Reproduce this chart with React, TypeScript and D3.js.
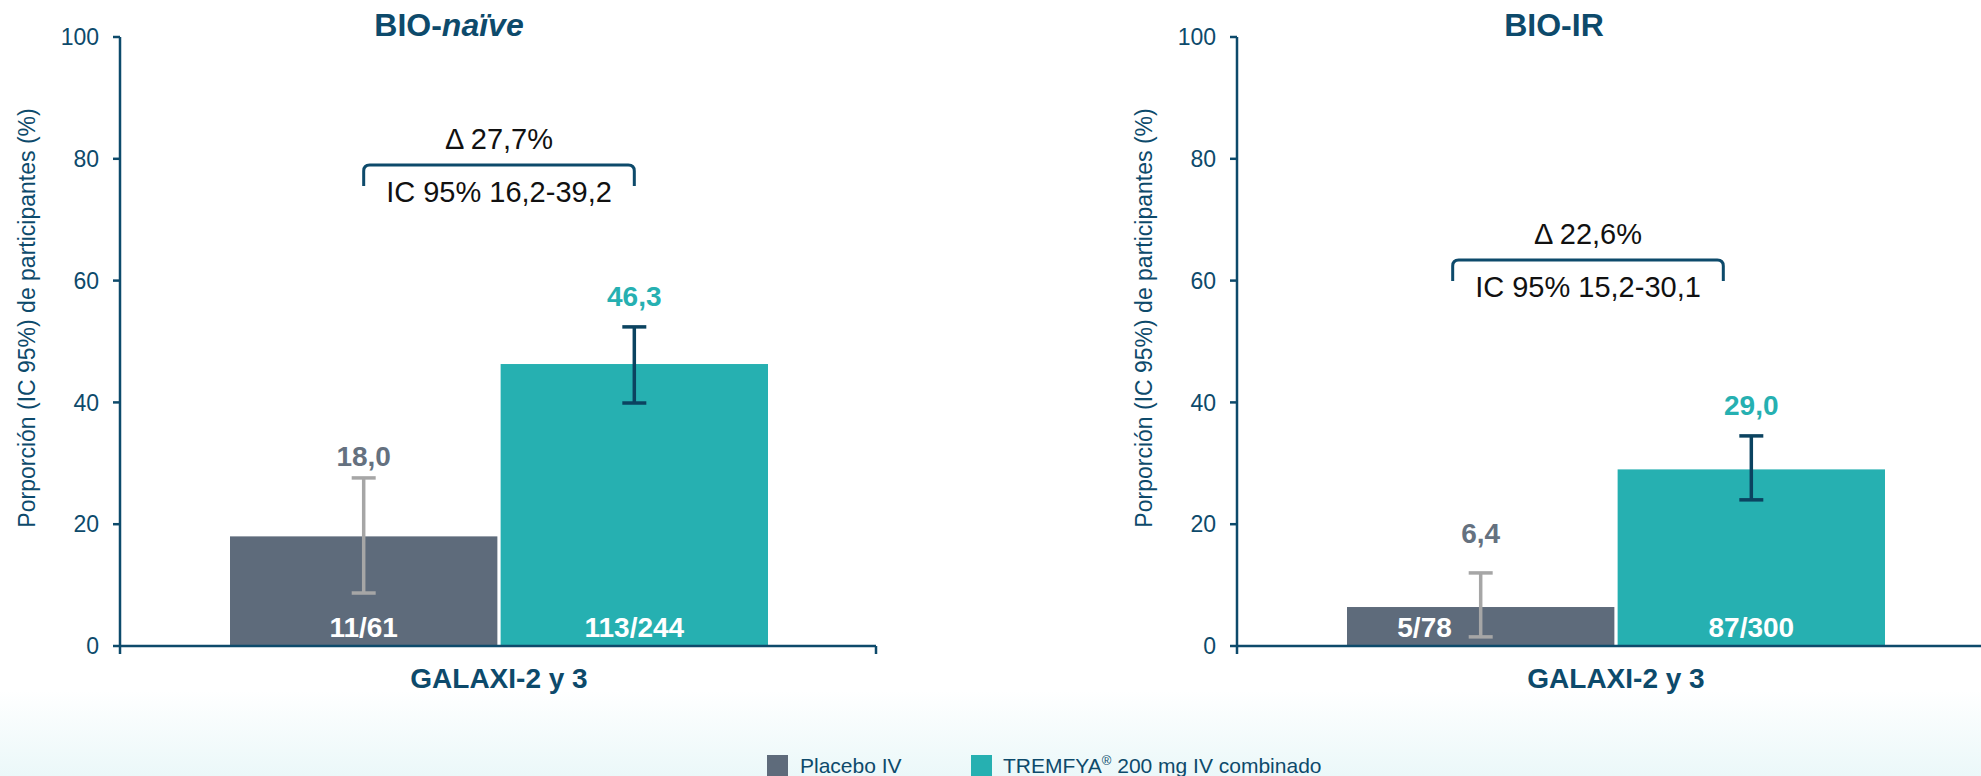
import React from "react";
import * as d3 from "d3";

// ---- data ----
const panelTitlesPlain = ["BIO-", "BIO-IR"];
const panelTitlesItalic = ["naïve", ""];
const seriesNames = ["Placebo IV", "TREMFYA"];
const placeboValues = [18.0, 6.4];
const tremfyaValues = [46.3, 29.0];
const placeboLow = [8.7, 1.5];
const placeboHigh = [27.6, 12.0];
const tremfyaLow = [39.9, 24.0];
const tremfyaHigh = [52.4, 34.5];
const placeboCounts = ["11/61", "5/78"];
const tremfyaCounts = ["113/244", "87/300"];
const deltaLabels = ["Δ 27,7%", "Δ 22,6%"];
const ciLabels = ["IC 95% 16,2-39,2", "IC 95% 15,2-30,1"];
const bracketLevels = [79.0, 63.4];
const yTicks = [0, 20, 40, 60, 80, 100];
const xCategory = "GALAXI-2 y 3";
const yAxisTitle = "Porporción (IC 95%) de participantes (%)";

// ---- layout / style ----
const W = 1981;
const H = 776;
const FONT = "'Liberation Sans', Arial, Helvetica, sans-serif";
const NAVY = "#0d4a6b";
const PLACEBO = "#5e6b7b";
const TEAL = "#26b0b1";
const ERR_GRAY = "#a6a6a6";
const ERR_DARK = "#0b4360";
const LABEL_GRAY = "#65717f";

const panelOrigins = [120, 1237];
const axisLen = 756;
const titleOffsets = [329, 317];
const bracketShift = [0, -28];
const countAnchor = [
  [0.5, 0.5],
  [0.29, 0.5],
];
const valueLabelGap = [
  [12, 21],
  [30, 21],
];

const y = d3.scaleLinear().domain([0, 100]).range([646, 37]);
const fmt = (v: number) => d3.format(".1f")(v).replace(".", ",");

function Panel({ i }: { i: number }) {
  const ox = panelOrigins[i];
  const x = d3
    .scaleBand<string>()
    .domain(seriesNames)
    .range([ox + 110, ox + 648])
    .paddingInner(0.012);
  const bw = x.bandwidth();
  const vals = [placeboValues[i], tremfyaValues[i]];
  const lows = [placeboLow[i], tremfyaLow[i]];
  const highs = [placeboHigh[i], tremfyaHigh[i]];
  const counts = [placeboCounts[i], tremfyaCounts[i]];
  const fills = [PLACEBO, TEAL];
  const errCols = [ERR_GRAY, ERR_DARK];
  const labelCols = [LABEL_GRAY, TEAL];
  const centers = seriesNames.map((s) => (x(s) as number) + bw / 2);

  const bx1 = centers[0] + bracketShift[i];
  const bx2 = centers[1] + bracketShift[i];
  const by = y(bracketLevels[i]);
  const r = 6;
  const drop = 21;
  const bracketPath = `M${bx1},${by + drop} L${bx1},${by + r} Q${bx1},${by} ${bx1 + r},${by} L${bx2 - r},${by} Q${bx2},${by} ${bx2},${by + r} L${bx2},${by + drop}`;
  const bmid = (bx1 + bx2) / 2;
  const groupCenter = ox + 110 + (648 - 110) / 2;

  return (
    <g>
      {/* title */}
      <text
        x={ox + titleOffsets[i]}
        y={36}
        textAnchor="middle"
        fontFamily={FONT}
        fontWeight="bold"
        fontSize={32}
        fill={NAVY}
      >
        {panelTitlesPlain[i]}
        {panelTitlesItalic[i] && <tspan fontStyle="italic">{panelTitlesItalic[i]}</tspan>}
      </text>

      {/* y axis title */}
      <text
        transform={`translate(${ox - 93},${318}) rotate(-90)`}
        textAnchor="middle"
        dominantBaseline="central"
        fontFamily={FONT}
        fontSize={23}
        fill={NAVY}
      >
        {yAxisTitle}
      </text>

      {/* bars */}
      {seriesNames.map((s, k) => (
        <rect key={s} x={x(s)} y={y(vals[k])} width={bw} height={y(0) - y(vals[k])} fill={fills[k]} />
      ))}

      {/* count labels */}
      {seriesNames.map((s, k) => (
        <text
          key={"c" + s}
          x={(x(s) as number) + bw * countAnchor[i][k]}
          y={637}
          textAnchor="middle"
          fontFamily={FONT}
          fontWeight="bold"
          fontSize={28}
          fill="#ffffff"
        >
          {counts[k]}
        </text>
      ))}

      {/* error bars */}
      {seriesNames.map((s, k) => (
        <g key={"e" + s} stroke={errCols[k]} strokeWidth={3.5}>
          <line x1={centers[k]} x2={centers[k]} y1={y(lows[k])} y2={y(highs[k])} />
          <line x1={centers[k] - 12} x2={centers[k] + 12} y1={y(lows[k])} y2={y(lows[k])} />
          <line x1={centers[k] - 12} x2={centers[k] + 12} y1={y(highs[k])} y2={y(highs[k])} />
        </g>
      ))}

      {/* value labels */}
      {seriesNames.map((s, k) => (
        <text
          key={"v" + s}
          x={centers[k]}
          y={y(highs[k]) - valueLabelGap[i][k]}
          textAnchor="middle"
          fontFamily={FONT}
          fontWeight="bold"
          fontSize={28}
          fill={labelCols[k]}
        >
          {fmt(vals[k])}
        </text>
      ))}

      {/* axes */}
      <line x1={ox} x2={ox} y1={y(100)} y2={y(0) + 8} stroke={NAVY} strokeWidth={2.5} />
      <line x1={ox} x2={ox + axisLen} y1={y(0)} y2={y(0)} stroke={NAVY} strokeWidth={2.5} />
      <line x1={ox + axisLen} x2={ox + axisLen} y1={y(0)} y2={y(0) + 8} stroke={NAVY} strokeWidth={2.5} />
      {yTicks.map((t) => (
        <g key={t}>
          <line x1={ox - 7} x2={ox} y1={y(t)} y2={y(t)} stroke={NAVY} strokeWidth={2.5} />
          <text
            x={ox - 21}
            y={y(t)}
            dy="0.36em"
            textAnchor="end"
            fontFamily={FONT}
            fontSize={23}
            fill={NAVY}
          >
            {t}
          </text>
        </g>
      ))}

      {/* category label */}
      <text
        x={groupCenter}
        y={688}
        textAnchor="middle"
        fontFamily={FONT}
        fontWeight="bold"
        fontSize={28}
        fill={NAVY}
      >
        {xCategory}
      </text>

      {/* bracket */}
      <path d={bracketPath} fill="none" stroke={NAVY} strokeWidth={3} />
      <text x={bmid} y={by - 16} textAnchor="middle" fontFamily={FONT} fontSize={29} fill="#111111">
        {deltaLabels[i]}
      </text>
      <text x={bmid} y={by + 37} textAnchor="middle" fontFamily={FONT} fontSize={29} fill="#111111">
        {ciLabels[i]}
      </text>
    </g>
  );
}

export default function App() {
  return (
    <svg
      width={W}
      height={H}
      viewBox={`0 0 ${W} ${H}`}
      style={{ position: "absolute", left: 0, top: 0, display: "block" }}
    >
      <defs>
        <linearGradient id="bg" x1="0" y1="0" x2="0" y2="1">
          <stop offset="0" stopColor="#ffffff" />
          <stop offset="1" stopColor="#ebf8f9" />
        </linearGradient>
      </defs>
      <rect x={0} y={0} width={W} height={H} fill="#ffffff" />
      <rect x={0} y={690} width={W} height={H - 690} fill="url(#bg)" />
      {panelOrigins.map((_, i) => (
        <Panel key={i} i={i} />
      ))}

      {/* legend */}
      <rect x={767} y={755} width={21} height={21} fill={PLACEBO} />
      <text x={800} y={773} fontFamily={FONT} fontSize={21} fill={NAVY}>
        Placebo IV
      </text>
      <rect x={971} y={755} width={21} height={21} fill={TEAL} />
      <text x={1003} y={773} fontFamily={FONT} fontSize={21} fill={NAVY}>
        TREMFYA
        <tspan fontSize={13} dy={-8}>®</tspan>
        <tspan dy={8}> 200 mg IV combinado</tspan>
      </text>
    </svg>
  );
}
